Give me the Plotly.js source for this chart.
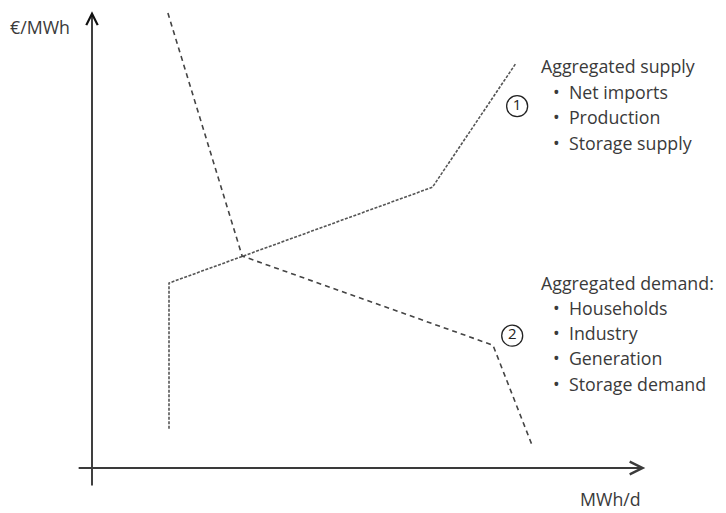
<!DOCTYPE html>
<html>
<head>
<meta charset="utf-8">
<script src="https://cdn.plot.ly/plotly-3.0.1.min.js"></script>
<style>html,body{margin:0;padding:0;background:#fff;}#chart{width:726px;height:513px;}</style>
</head>
<body>
<div id="chart"></div>
<script>
// Quantity (MWh/d, arbitrary units) and price (€/MWh, arbitrary units)
var supplyQ = [14, 14, 61.9, 77.0];
var supplyP = [8.7, 41.1, 62.4, 89.8];
var demandQ = [13.8, 27.3, 72.9, 80.0];
var demandP = [101.1, 47.1, 27.3, 5.1];
var markerQ = [77.3, 76.4];
var markerP = [80.4, 29.4];
var markerLabels = ['1', '2'];
var supplyTitle = 'Aggregated supply';
var supplyItems = ['Net imports', 'Production', 'Storage supply'];
var demandTitle = 'Aggregated demand:';
var demandItems = ['Households', 'Industry', 'Generation', 'Storage demand'];
var yLabel = '€/MWh';
var xLabel = 'MWh/d';

var W = 726, H = 513;
var FONT = '"Open Sans", sans-serif';
var TXT = '#3a3a3a';
var FS = 17.8;

var traces = [
  {x: supplyQ, y: supplyP, mode: 'lines', line: {color: '#555', width: 1.6, dash: '3px,1.5px'}, hoverinfo: 'skip'},
  {x: demandQ, y: demandP, mode: 'lines', line: {color: '#444', width: 1.6, dash: '5px,4px'}, hoverinfo: 'skip'},
  {x: markerQ, y: markerP, mode: 'markers+text', text: markerLabels, textposition: 'middle center',
   textfont: {family: FONT, size: 15, color: '#222'},
   marker: {symbol: 'circle-open', size: 21, color: '#222', line: {width: 1.3, color: '#222'}}, hoverinfo: 'skip'}
];

function px(x) { return x / W; }
function py(y) { return 1 - y / H; }

function textAnn(x, y, t, anchor) {
  return {x: px(x), y: py(y), xref: 'paper', yref: 'paper', xanchor: anchor || 'left', yanchor: 'middle',
    text: t, showarrow: false, borderpad: 0, font: {family: FONT, size: FS, color: TXT}};
}

var annotations = [
  // y axis arrow
  {x: 0, y: 101.5, ax: 0, ay: -4.2, xref: 'x', yref: 'y', axref: 'x', ayref: 'y',
   showarrow: true, arrowhead: 5, arrowsize: 1.4, arrowwidth: 1.6, arrowcolor: '#111', text: ''},
  // x axis arrow
  {x: 100.6, y: 0, ax: -2.7, ay: 0, xref: 'x', yref: 'y', axref: 'x', ayref: 'y',
   showarrow: true, arrowhead: 5, arrowsize: 1.4, arrowwidth: 1.8, arrowcolor: '#3a3a3a', text: ''},
  textAnn(9, 27, yLabel),
  textAnn(610, 499, xLabel, 'center'),
  textAnn(540, 66, supplyTitle),
  textAnn(540, 283, demandTitle)
];
supplyItems.forEach(function (s, i) {
  annotations.push(textAnn(552, 92 + i * 25.5, '•  ' + s));
});
demandItems.forEach(function (s, i) {
  annotations.push(textAnn(552, 308 + i * 25.2, '•  ' + s));
});

var layout = {
  width: W, height: H,
  margin: {l: 0, r: 0, t: 0, b: 0},
  paper_bgcolor: '#fff', plot_bgcolor: '#fff',
  showlegend: false,
  xaxis: {range: [-92 / 5.5, 634 / 5.5], visible: false, fixedrange: true},
  yaxis: {range: [-45 / 4.5, 468 / 4.5], visible: false, fixedrange: true},
  annotations: annotations
};

Plotly.newPlot('chart', traces, layout, {staticPlot: true, displayModeBar: false});
</script>
</body>
</html>
